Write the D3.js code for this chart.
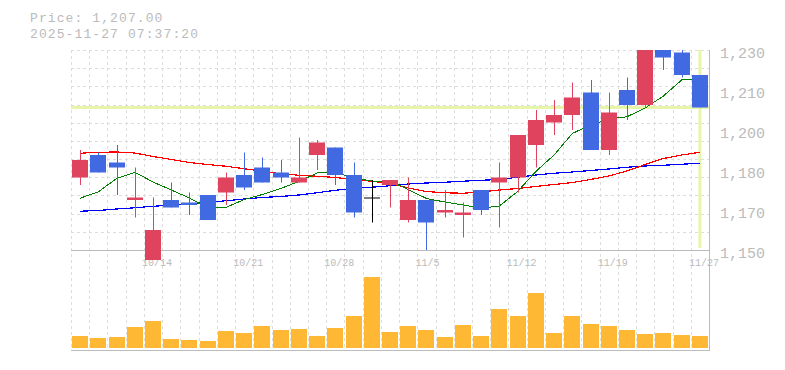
<!DOCTYPE html>
<html>
<head>
<meta charset="utf-8">
<script src="https://cdn.jsdelivr.net/npm/d3@7"></script>
<style>
  body { margin: 0; background: #fff; }
  text { font-family: "Liberation Mono", "DejaVu Sans Mono", monospace; fill: #bbb; }
</style>
</head>
<body>
<div id="chart"></div>
<script>
var dates = ["10/7","10/8","10/9","10/10","10/14","10/15","10/16","10/17","10/20","10/21",
  "10/22","10/23","10/24","10/27","10/28","10/29","10/30","10/31","11/4","11/5",
  "11/6","11/7","11/10","11/11","11/12","11/13","11/14","11/17","11/18","11/19",
  "11/20","11/21","11/25","11/26","11/27"];

var open = [1179,1188,1185,1170,1146,1170,1169,1172,1173,1180,1183,1181,1177,1188,1191,1180,1171,1176,1162,1170,
  1165,1164,1174,1177,1179,1192,1201,1204,1213,1190,1214,1208,1234,1229,1220];
var close = [1186,1181,1183,1171,1158,1167,1168,1162,1179,1175,1177,1179,1179,1193,1180,1165,1171,1178,1170,1161,
  1166,1165,1166,1179,1196,1202,1204,1211,1190,1205,1208,1233,1227,1220,1207];
var high = [1190,1189,1192,1183,1171,1177,1173,1172,1181,1189,1187,1186,1195,1194,1191,1185,1178,1178,1179,1170,
  1174,1169,1174,1185,1196,1206,1210,1217,1218,1213,1219,1238,1236,1232,1220];
var low = [1176,1181,1172,1163,1146,1167,1164,1162,1168,1174,1177,1177,1177,1182,1176,1163,1161,1167,1161,1150,
  1163,1155,1164,1159,1173,1183,1196,1198,1190,1188,1202,1207,1222,1219,1207];

// volume, thousand shares
var volume = [24,20,22,42,54,18,16,14,34,30,44,36,38,24,40,64,142,32,44,36,
  22,46,24,78,64,110,30,64,48,44,36,28,30,26,24];

// moving averages
var maShort = [1170.7,1173.3,1178.6,1181.1,1177.2,1174.0,1170.8,1166.8,1167.0,1170.2,
  1172.2,1174.6,1177.4,1180.8,1181.0,1178.8,1177.6,1177.6,1174.2,1170.6,
  1169.2,1168.0,1166.7,1167.6,1173.4,1181.4,1188.0,1196.6,1200.0,1202.4,
  1203.3,1206.8,1211.6,1218.0,1218.4];
var maMid = [1188.7,1189.1,1189.2,1188.8,1187.4,1186.2,1185.0,1184.2,1183.5,1182.5,
  1181.6,1180.5,1179.9,1179.5,1179.0,1178.2,1177.5,1176.6,1174.8,1173.4,
  1172.9,1172.7,1173.2,1174.0,1174.6,1175.4,1176.2,1177.0,1178.2,1179.6,
  1181.6,1184.2,1186.6,1188.0,1189.1];
var maLong = [1165.5,1165.8,1166.4,1166.9,1167.5,1167.9,1168.4,1169.1,1169.7,1170.4,
  1171.0,1171.4,1172.0,1172.9,1173.9,1174.6,1175.1,1175.7,1176.4,1176.8,
  1177.1,1177.5,1177.9,1178.2,1179.1,1180.0,1180.7,1181.2,1181.8,1182.4,
  1183.1,1183.6,1183.9,1184.3,1184.7];

var lastPrice = 1207;
var yTickValues = [1150, 1166, 1182, 1198, 1214, 1230];
var yTickLabels = ["1,150", "1,170", "1,180", "1,200", "1,210", "1,230"];
var xTickLabels = ["10/14", "10/21", "10/28", "11/5", "11/12", "11/19", "11/27"];

var width = 785, height = 370;
var plot = {left: 71, right: 709, top: 50, priceBottom: 250, volTop: 268, volBottom: 348, axisBottom: 350};

var svg = d3.select("#chart")
  .append("svg")
  .attr("width", width)
  .attr("height", height);

var x = d3.scalePoint()
  .domain(dates)
  .range([plot.left, plot.right])
  .padding(0.5);

var y = d3.scaleLinear()
  .domain([1150, 1230])
  .range([plot.priceBottom, plot.top]);

var yVol = d3.scaleLinear()
  .domain([0, 160])
  .range([plot.volBottom, plot.volTop]);

var step = x.step();
var candleW = 16;

svg.append("defs").append("clipPath")
  .attr("id", "clipPrice")
  .append("rect")
  .attr("x", 0)
  .attr("y", plot.top)
  .attr("width", width)
  .attr("height", 220);

// grid
var grid = svg.append("g")
  .attr("stroke", "#ddd")
  .attr("stroke-dasharray", "3,3")
  .attr("stroke-width", 1);

d3.range(11).forEach(function(k) {
  var gy = plot.top + k * (plot.priceBottom - plot.top) / 11;
  grid.append("line")
    .attr("x1", plot.left).attr("x2", plot.right)
    .attr("y1", Math.round(gy) + 0.5).attr("y2", Math.round(gy) + 0.5);
});

d3.range(dates.length).forEach(function(i) {
  var gx = plot.left + i * step;
  grid.append("line")
    .attr("x1", Math.round(gx) + 0.5).attr("x2", Math.round(gx) + 0.5)
    .attr("y1", plot.top).attr("y2", plot.axisBottom);
});

// axis lines
svg.append("line")
  .attr("x1", plot.left).attr("x2", plot.right + 1)
  .attr("y1", plot.priceBottom + 0.5).attr("y2", plot.priceBottom + 0.5)
  .attr("stroke", "#bbb");
svg.append("line")
  .attr("x1", plot.left).attr("x2", plot.right + 1)
  .attr("y1", plot.axisBottom + 0.5).attr("y2", plot.axisBottom + 0.5)
  .attr("stroke", "#bbb");
svg.append("line")
  .attr("x1", plot.right + 0.5).attr("x2", plot.right + 0.5)
  .attr("y1", plot.top).attr("y2", plot.axisBottom + 1)
  .attr("stroke", "#bbb");

// header
svg.append("text")
  .attr("x", 30).attr("y", 22)
  .style("font-size", "13px")
  .style("letter-spacing", "1.1px")
  .text("Price: " + d3.format(",.2f")(lastPrice));
svg.append("text")
  .attr("x", 30).attr("y", 38)
  .style("font-size", "13px")
  .style("letter-spacing", "1.1px")
  .text("2025-11-27 07:37:20");

// y labels
svg.selectAll(".ylabel")
  .data(yTickValues)
  .enter()
  .append("text")
  .attr("class", "ylabel")
  .attr("x", 720)
  .attr("y", function(d) { return y(d) + 8; })
  .style("font-size", "15px")
  .text(function(d, i) { return yTickLabels[i]; });

// x labels
svg.selectAll(".xlabel")
  .data(xTickLabels)
  .enter()
  .append("text")
  .attr("class", "xlabel")
  .attr("x", function(d) { return x(d) - 11; })
  .attr("y", 266)
  .style("font-size", "10px")
  .text(function(d) { return d; });

// last price line
svg.append("line")
  .attr("x1", plot.left).attr("x2", plot.right)
  .attr("y1", y(lastPrice)).attr("y2", y(lastPrice))
  .attr("stroke", "#e6f5a8")
  .attr("stroke-width", 3);
svg.append("line")
  .attr("x1", x(dates[dates.length - 1])).attr("x2", x(dates[dates.length - 1]))
  .attr("y1", plot.top).attr("y2", plot.priceBottom - 2)
  .attr("stroke", "#e6f5a8")
  .attr("stroke-width", 3);

// moving averages
var line = d3.line()
  .x(function(d, i) { return x(dates[i]); })
  .y(function(d) { return y(d); });

var maSeries = [
  {values: maLong, color: "#0000ff", w: 1.2},
  {values: maMid, color: "#ff0000", w: 1.2},
  {values: maShort, color: "#008000", w: 1}
];

svg.append("g")
  .attr("clip-path", "url(#clipPrice)")
  .selectAll("path")
  .data(maSeries)
  .enter()
  .append("path")
  .attr("d", function(d) { return line(d.values); })
  .attr("fill", "none")
  .attr("stroke", function(d) { return d.color; })
  .attr("stroke-width", function(d) { return d.w; })
  .attr("shape-rendering", "crispEdges");

// candles
var candles = dates.map(function(d, i) {
  return {date: d, open: open[i], close: close[i], high: high[i], low: low[i]};
});

function candleColor(d) {
  if (d.close > d.open) return "#e0435e";
  if (d.close < d.open) return "#4169e1";
  return "#000";
}

var cg = svg.append("g")
  .attr("clip-path", "url(#clipPrice)")
  .selectAll("g")
  .data(candles)
  .enter()
  .append("g");

cg.append("line")
  .attr("x1", function(d) { return Math.round(x(d.date)) + 0.5; })
  .attr("x2", function(d) { return Math.round(x(d.date)) + 0.5; })
  .attr("y1", function(d) { return y(d.high); })
  .attr("y2", function(d) { return y(d.low); })
  .attr("stroke", candleColor)
  .attr("stroke-width", 1);

cg.append("rect")
  .attr("x", function(d) { return Math.round(x(d.date) - candleW / 2); })
  .attr("y", function(d) { return y(Math.max(d.open, d.close)); })
  .attr("width", candleW)
  .attr("height", function(d) { return Math.max(1, Math.abs(y(d.open) - y(d.close))); })
  .attr("fill", candleColor);

// volume
svg.selectAll(".vol")
  .data(volume)
  .enter()
  .append("rect")
  .attr("class", "vol")
  .attr("x", function(d, i) { return Math.round(x(dates[i]) - candleW / 2); })
  .attr("y", function(d) { return yVol(d); })
  .attr("width", candleW)
  .attr("height", function(d) { return yVol(0) - yVol(d); })
  .attr("fill", "#ffb834");
</script>
</body>
</html>
